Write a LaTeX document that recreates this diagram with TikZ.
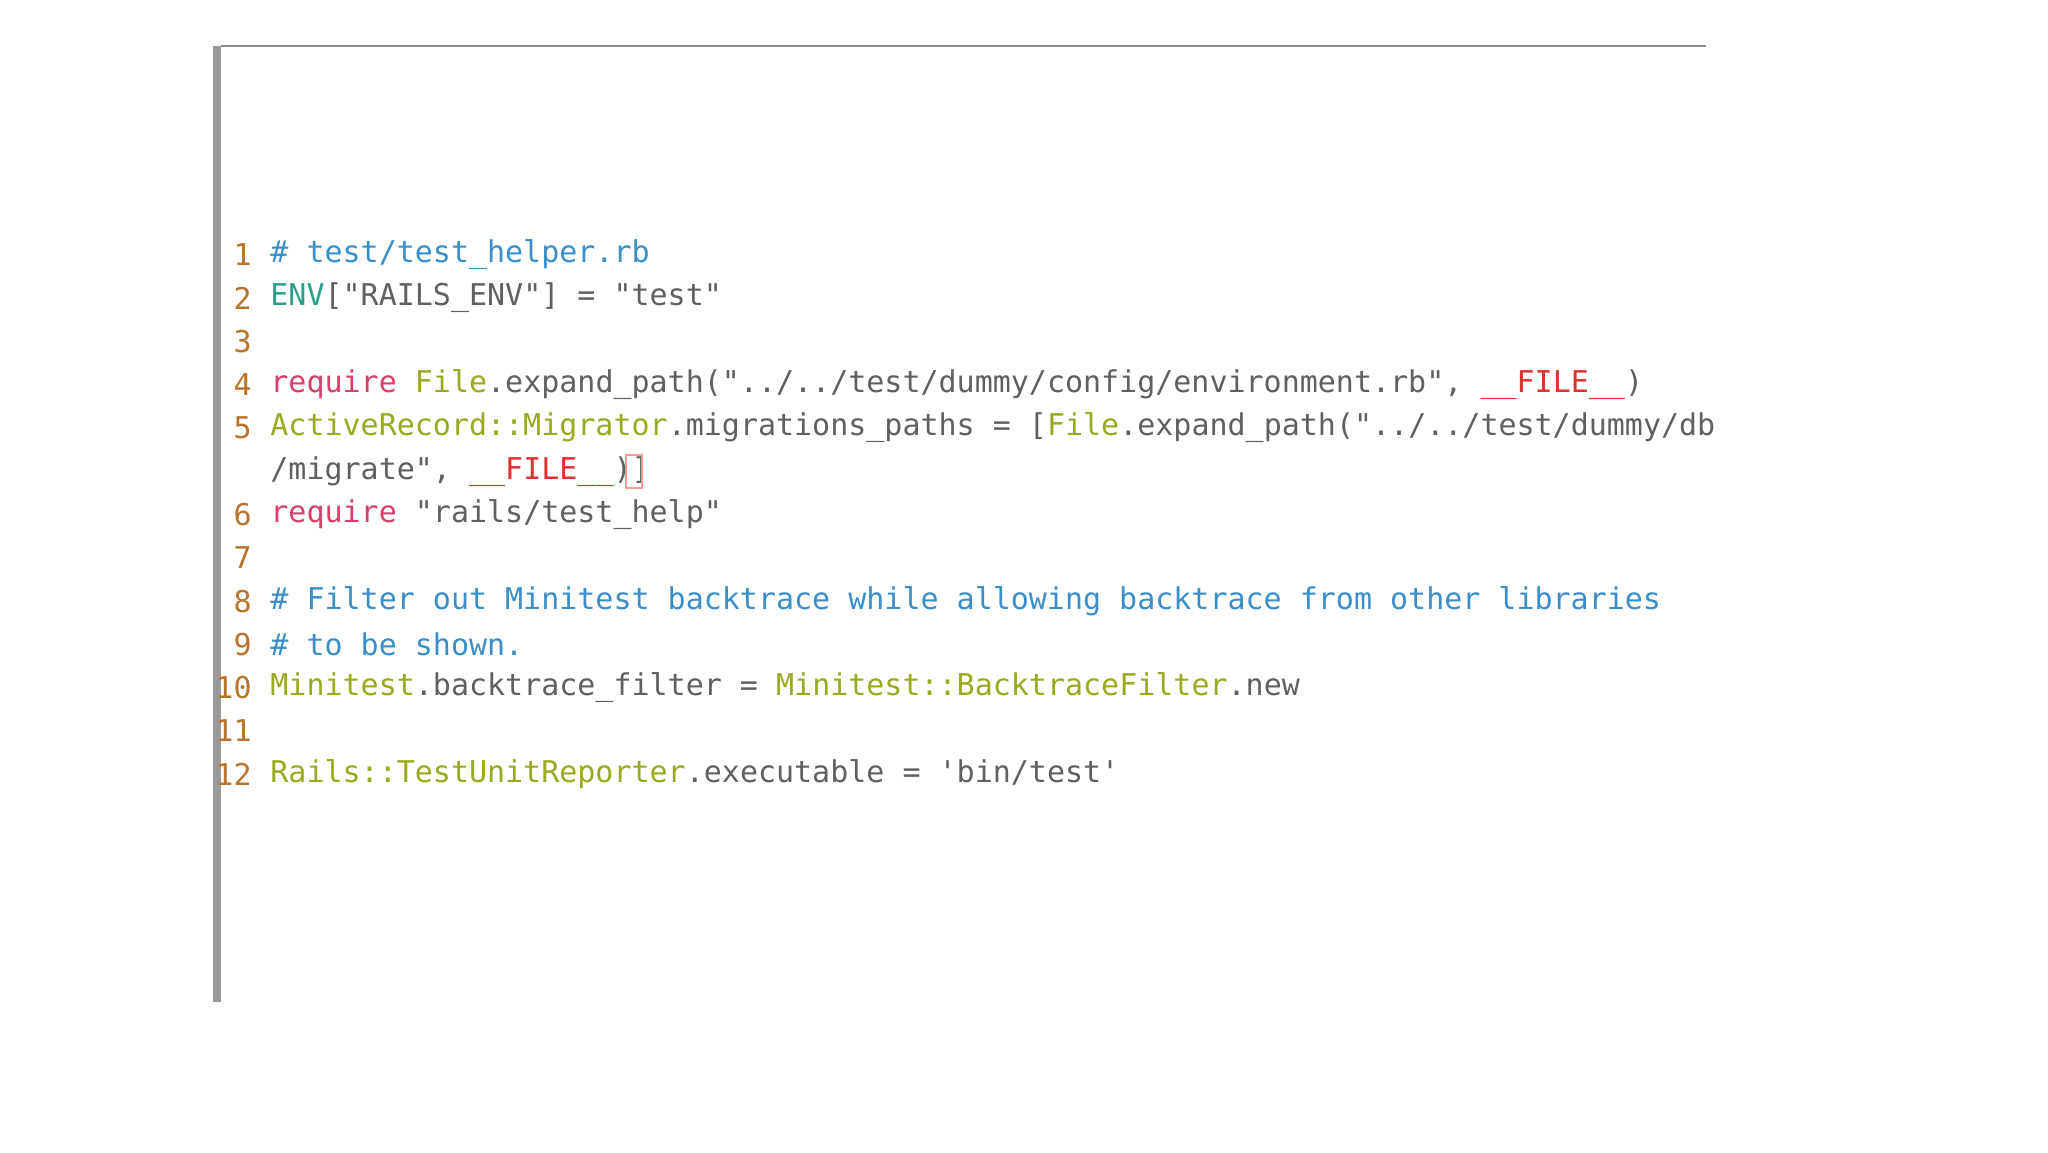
\documentclass[tikz,border=0pt]{standalone}
\usepackage{fontspec}
\newfontfamily\code{DejaVu Sans Mono}
\definecolor{cnum}{HTML}{B8742A}
\definecolor{ccom}{HTML}{3A8FC8}
\definecolor{cenv}{HTML}{2AA08A}
\definecolor{creq}{HTML}{D8406A}
\definecolor{ccls}{HTML}{9AAA20}
\definecolor{ctxt}{HTML}{606060}
\definecolor{cfile}{HTML}{E03030}
\begin{document}
\begin{tikzpicture}[x=0.5pt,y=-0.5pt,
  num/.style={anchor=east,inner sep=0,font=\code\fontsize{15pt}{15pt}\selectfont,text=cnum},
  ln/.style={anchor=west,inner sep=0,font=\code\fontsize{15pt}{15pt}\selectfont,text=ctxt}]
\useasboundingbox (0,0) rectangle (2048,1152);
\fill[white] (0,0) rectangle (2048,1152);
\fill[black!40] (213,46) rectangle (221,1002);
\draw[black!45,line width=1] (221,46) -- (1706,46);
\foreach \n/\r in {1/0,2/1,3/2,4/3,5/4,6/6,7/7,8/8,9/9,10/10,11/11,12/12}
  \node[num] (n\n) at (252,{254.7+43.3*\r}) {\n};
\node[ln] (l1) at (270,254.7) {\textcolor{ccom}{\# test/test\_helper.rb}};
\node[ln] (l2) at (270,298) {\textcolor{cenv}{ENV}["RAILS\_ENV"] = "test"};
\node[ln] (l4) at (270,384.6) {\textcolor{creq}{require} \textcolor{ccls}{File}.expand\_path("../../test/dummy/config/environment.rb", \textcolor{cfile}{\_\_FILE\_\_})};
\node[ln] (l5) at (270,427.9) {\textcolor{ccls}{ActiveRecord::Migrator}.migrations\_paths = [\textcolor{ccls}{File}.expand\_path("../../test/dummy/db};
\node[ln] (l5b) at (270,471.2) {/migrate", \textcolor{cfile}{\_\_FILE\_\_})]};
\draw[red!40,line width=1] (626,455) rectangle (642,488);
\node[ln] (l6) at (270,514.5) {\textcolor{creq}{require} "rails/test\_help"};
\node[ln] (l8) at (270,601.1) {\textcolor{ccom}{\# Filter out Minitest backtrace while allowing backtrace from other libraries}};
\node[ln] (l9) at (270,644.4) {\textcolor{ccom}{\# to be shown.}};
\node[ln] (l10) at (270,687.7) {\textcolor{ccls}{Minitest}.backtrace\_filter = \textcolor{ccls}{Minitest::BacktraceFilter}.new};
\node[ln] (l12) at (270,774.3) {\textcolor{ccls}{Rails::TestUnitReporter}.executable = 'bin/test'};
\end{tikzpicture}
\end{document}
